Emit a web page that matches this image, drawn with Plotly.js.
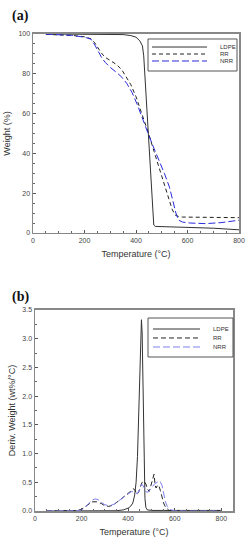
<!DOCTYPE html>
<html><head><meta charset="utf-8">
<script src="https://cdn.plot.ly/plotly-3.0.1.min.js"></script>
<style>html,body{margin:0;padding:0;background:#fff;}#chart{width:250px;height:550px;}</style>
</head><body><div id="chart"></div>
<script>
// (a) TGA weight curves
const tgaLdpeT = [50,100,150,200,250,300,350,380,400,415,425,430,435,440,445,450,455,460,463,466,469,475,500,600,700,800];
const tgaLdpeW = [100,100,100,100,100,99.9,99.7,99.2,98.4,96.5,94,89,78,66,55,46,36,24,14,7,4,3.3,3.2,2.9,2.4,1.6];
const tgaRrT = [50,100,150,200,225,240,250,265,280,300,325,345,360,380,400,420,450,470,490,510,525,540,552,565,580,700,800];
const tgaRrW = [99.8,99.6,99.3,98.6,97.6,95.5,93.5,90.5,88.3,86.8,84.6,82,78.5,74.5,68.5,61,49.5,41,33,25,18,12,9,8.3,8.0,7.9,7.7];
const tgaNrrT = [50,100,150,200,225,240,250,265,280,300,325,345,365,385,405,420,450,470,490,510,530,545,555,565,580,610,640,670,730,800];
const tgaNrrW = [99.9,99.7,99.3,98.4,97.4,94.5,92,88.5,85.8,83.2,80.6,78.3,75,70.5,64.5,59,49,42.5,36.5,30,23,15,10,6.5,5.5,5.0,4.8,4.7,5.2,6.4];
// (b) DTG derivative curves
const dtgLdpeT = [50,100,200,300,350,380,400,410,420,428,434,440,445,450,454,457,460,463,466,469,472,476,482,500,600,700,800];
const dtgLdpeD = [0,0,0,0,0.005,0.02,0.05,0.08,0.14,0.28,0.5,0.95,1.7,2.6,3.15,3.33,3.1,2.3,1.3,0.6,0.22,0.06,0.02,0.01,0.01,0.01,0.01];
const dtgRrT = [50,150,180,200,215,230,245,265,285,300,315,335,355,375,395,410,421,430,437,445,453,460,468,476,483,490,498,505,511,516,520,525,531,538,545,552,560,568,575,590,650,800];
const dtgRrD = [0,0,0.01,0.03,0.07,0.12,0.16,0.16,0.13,0.09,0.08,0.1,0.16,0.22,0.28,0.34,0.39,0.36,0.29,0.33,0.43,0.5,0.52,0.47,0.38,0.34,0.45,0.58,0.64,0.44,0.40,0.44,0.45,0.36,0.25,0.14,0.07,0.03,0.01,0,0,0];
const dtgNrrT = [50,150,180,200,215,230,245,258,270,285,300,320,340,360,380,400,415,430,440,450,457,463,470,478,486,495,505,515,525,536,545,553,560,568,575,585,600,650,800];
const dtgNrrD = [0,0,0.005,0.02,0.06,0.13,0.19,0.21,0.2,0.15,0.11,0.09,0.12,0.18,0.24,0.31,0.34,0.32,0.3,0.38,0.46,0.45,0.38,0.33,0.33,0.38,0.44,0.48,0.5,0.52,0.45,0.3,0.16,0.08,0.04,0.02,0.005,0,0];
const seriesNames = ['LDPE','RR','NRR'];
const xTicks = [0,200,400,600,800];
const yTicksA = [0,20,40,60,80,100];
const yTicksB = [0,0.5,1,1.5,2,2.5,3,3.5];

const FONT = 'Liberation Sans Narrow, Liberation Sans, Arial, sans-serif';
const stylesA = [{color:'#333',width:1},{color:'#222',width:1,dash:'4px,3px'},{color:'#2b2bdc',width:1,dash:'7px,3px'}];
const stylesB = [{color:'#333',width:1},{color:'#222',width:1,dash:'5px,3px'},{color:'#7f7ff2',width:1,dash:'7px,3px'}];
const traces = [
  {x:tgaLdpeT,y:tgaLdpeW,name:seriesNames[0],xaxis:'x',yaxis:'y',mode:'lines',line:stylesA[0]},
  {x:tgaRrT,y:tgaRrW,name:seriesNames[1],xaxis:'x',yaxis:'y',mode:'lines',line:stylesA[1]},
  {x:tgaNrrT,y:tgaNrrW,name:seriesNames[2],xaxis:'x',yaxis:'y',mode:'lines',line:stylesA[2]},
  {x:dtgLdpeT,y:dtgLdpeD,name:seriesNames[0],xaxis:'x2',yaxis:'y2',mode:'lines',line:stylesB[0]},
  {x:dtgRrT,y:dtgRrD,name:seriesNames[1],xaxis:'x2',yaxis:'y2',mode:'lines',line:stylesB[1]},
  {x:dtgNrrT,y:dtgNrrD,name:seriesNames[2],xaxis:'x2',yaxis:'y2',mode:'lines',line:stylesB[2]}
];

// compact legend boxes (paper coordinates)
const shapes = [], annotations = [];
function addLegend(box, lineX0, lineX1, textX, rowsY, styles){
  shapes.push({type:'rect',xref:'paper',yref:'paper',x0:box[0],x1:box[1],y0:box[2],y1:box[3],
    line:{color:'#555',width:1},fillcolor:'#fff',layer:'above'});
  seriesNames.forEach((nm,i)=>{
    shapes.push({type:'line',xref:'paper',yref:'paper',x0:lineX0,x1:lineX1,y0:rowsY[i],y1:rowsY[i],
      line:Object.assign({},styles[i]),layer:'above'});
    annotations.push({text:nm,xref:'paper',yref:'paper',x:textX,y:rowsY[i],xanchor:'left',yanchor:'middle',
      showarrow:false,font:{family:FONT,size:6,color:'#333'}});
  });
}
addLegend([0.592,0.948,0.8709,0.9291],0.608,0.828,0.872,[0.9145,0.9018,0.8891],stylesA);
addLegend([0.592,0.932,0.3509,0.4218],0.612,0.800,0.845,[0.4018,0.3855,0.3691],stylesB);
annotations.push(
  {text:'<b>(a)</b>',xref:'paper',yref:'paper',x:0.04,y:0.99,xanchor:'left',yanchor:'top',showarrow:false,font:{family:'Liberation Serif, serif',size:14,color:'#111'}},
  {text:'<b>(b)</b>',xref:'paper',yref:'paper',x:0.04,y:0.478,xanchor:'left',yanchor:'top',showarrow:false,font:{family:'Liberation Serif, serif',size:14,color:'#111'}}
);

const axBase = {showgrid:false,zeroline:false,showline:true,mirror:true,linecolor:'#888',linewidth:1.5,
  ticks:'inside',ticklen:3,tickcolor:'#555',tickwidth:1,tickfont:{family:FONT,size:7,color:'#444'},
  minor:{ticks:'inside',ticklen:2,tickcolor:'#666'}};
const titleFont = {family:FONT,size:9,color:'#333'};
const layout = {
  width:250,height:550,margin:{l:0,r:0,t:0,b:0},paper_bgcolor:'#fff',plot_bgcolor:'#fff',
  font:{family:FONT,color:'#333'},showlegend:false,shapes:shapes,annotations:annotations,
  xaxis:Object.assign({},axBase,{domain:[0.132,0.956],range:[0,800],tickvals:xTicks,minor:Object.assign({},axBase.minor,{dtick:50}),
    anchor:'y',title:{text:'Temperature (°C)',font:titleFont,standoff:8}}),
  yaxis:Object.assign({},axBase,{domain:[0.5764,0.9382],range:[0,100],tickvals:yTicksA,minor:Object.assign({},axBase.minor,{dtick:5}),
    anchor:'x',title:{text:'Weight (%)',font:titleFont,standoff:6}}),
  xaxis2:Object.assign({},axBase,{domain:[0.14,0.932],range:[0,850],tickvals:xTicks,minor:Object.assign({},axBase.minor,{dtick:50}),
    anchor:'y2',title:{text:'Temperature (°C)',font:titleFont,standoff:8}}),
  yaxis2:Object.assign({},axBase,{domain:[0.0709,0.4364],range:[0,3.5],tickvals:yTicksB,tickformat:'.1f',minor:Object.assign({},axBase.minor,{dtick:0.25}),
    anchor:'x2',title:{text:'Deriv. Weight (wt%/°C)',font:titleFont,standoff:5}})
};
Plotly.newPlot('chart',traces,layout,{displayModeBar:false,staticPlot:true});
</script></body></html>
